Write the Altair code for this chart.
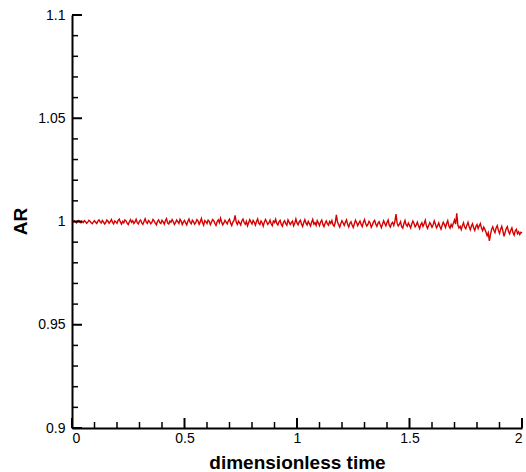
import altair as alt
import pandas as pd

ar_values = [
    1.0000, 0.9996, 1.0003, 0.9998, 0.9993, 1.0002, 1.0005, 0.9997, 0.9994, 1.0001,
    0.9995, 1.0004, 0.9999, 0.9991, 0.9997, 1.0006, 1.0001, 0.9994, 0.9989, 0.9998,
    1.0004, 0.9996, 0.9990, 1.0002, 1.0008, 0.9999, 0.9993, 1.0005, 0.9997, 0.9988,
    0.9995, 1.0007, 1.0001, 0.9992, 0.9999, 1.0010, 0.9996, 0.9989, 1.0003, 0.9998,
    0.9991, 1.0006, 1.0012, 0.9997, 0.9987, 1.0001, 0.9994, 1.0008, 1.0003, 0.9992,
    0.9985, 0.9999, 1.0009, 0.9996, 1.0004, 0.9990, 0.9998, 1.0011, 0.9994, 0.9988,
    1.0002, 1.0007, 0.9993, 0.9986, 1.0000, 1.0013, 0.9997, 0.9991, 1.0005, 0.9999,
    0.9989, 0.9996, 1.0010, 1.0003, 0.9992, 0.9984, 1.0001, 1.0008, 0.9995, 0.9990,
    1.0006, 0.9998, 0.9987, 1.0004, 1.0014, 0.9993, 0.9988, 1.0002, 0.9996, 1.0009,
    1.0000, 0.9986, 0.9994, 1.0007, 0.9999, 0.9990, 1.0011, 1.0002, 0.9985, 0.9997,
    1.0005, 0.9993, 0.9983, 1.0001, 1.0012, 0.9996, 0.9989, 1.0006, 0.9999, 0.9987,
    0.9994, 1.0009, 1.0003, 0.9986, 0.9998, 1.0015, 0.9995, 0.9982, 1.0004, 0.9999,
    0.9990, 1.0007, 1.0001, 0.9985, 0.9996, 1.0010, 1.0004, 0.9991, 0.9981, 0.9999,
    1.0008, 0.9994, 1.0016, 0.9998, 0.9984, 0.9993, 1.0006, 0.9997, 0.9988, 1.0003,
    1.0011, 0.9992, 0.9980, 0.9997, 1.0005, 1.0030, 0.9996, 0.9986, 1.0002, 0.9993,
    0.9983, 1.0004, 1.0012, 0.9995, 0.9987, 1.0001, 0.9979, 0.9994, 1.0009, 0.9998,
    0.9988, 1.0005, 0.9996, 0.9982, 1.0000, 1.0013, 0.9992, 0.9985, 1.0003, 0.9994,
    0.9978, 0.9997, 1.0010, 0.9999, 0.9986, 0.9993, 1.0007, 0.9989, 0.9980, 1.0002,
    0.9995, 1.0011, 0.9991, 0.9983, 0.9998, 1.0006, 0.9987, 0.9977, 0.9996, 1.0004,
    0.9990, 0.9982, 1.0008, 0.9997, 0.9985, 0.9994, 1.0002, 0.9979, 0.9991, 1.0012,
    0.9993, 0.9984, 0.9999, 1.0006, 0.9988, 0.9976, 0.9995, 1.0009, 0.9992, 0.9983,
    1.0001, 0.9990, 0.9978, 0.9996, 1.0010, 0.9987, 0.9994, 0.9981, 1.0004, 0.9993,
    0.9980, 0.9998, 1.0007, 0.9986, 0.9975, 0.9992, 1.0003, 0.9989, 0.9982, 1.0000,
    0.9991, 1.0005, 0.9984, 0.9977, 0.9995, 1.0032, 0.9997, 0.9985, 0.9973, 0.9990,
    1.0004, 0.9993, 0.9981, 0.9996, 1.0008, 0.9987, 0.9974, 0.9991, 0.9999, 0.9983,
    0.9971, 0.9989, 1.0006, 0.9994, 0.9980, 0.9992, 1.0002, 0.9985, 0.9975, 0.9997,
    1.0009, 0.9990, 0.9978, 0.9986, 1.0001, 0.9993, 0.9972, 0.9983, 0.9998, 1.0006,
    0.9988, 0.9976, 0.9992, 0.9999, 0.9984, 0.9970, 0.9987, 1.0004, 0.9991, 0.9979,
    0.9995, 1.0007, 0.9982, 0.9973, 0.9990, 0.9996, 0.9981, 1.0000, 1.0036, 0.9992,
    0.9978, 0.9987, 0.9999, 0.9975, 0.9968, 0.9989, 1.0005, 0.9984, 0.9977, 0.9993,
    0.9982, 0.9969, 0.9988, 1.0002, 0.9990, 0.9974, 0.9983, 0.9997, 0.9979, 0.9966,
    0.9985, 0.9994, 0.9976, 0.9989, 1.0006, 0.9981, 0.9967, 0.9980, 0.9995, 0.9986,
    0.9972, 0.9984, 1.0003, 0.9988, 0.9970, 0.9979, 0.9993, 0.9976, 0.9963, 0.9982,
    0.9996, 0.9985, 0.9971, 0.9990, 1.0004, 0.9978, 0.9968, 0.9986, 0.9974, 0.9992,
    1.0008, 0.9987, 1.0040, 0.9983, 0.9969, 0.9977, 0.9961, 0.9980, 0.9994, 0.9973,
    0.9965, 0.9982, 0.9996, 0.9975, 0.9960, 0.9978, 0.9989, 0.9970, 0.9957, 0.9976,
    0.9985, 0.9966, 0.9979, 0.9990, 0.9968, 0.9955, 0.9973, 0.9962, 0.9948, 0.9931,
    0.9945, 0.9906, 0.9938, 0.9962, 0.9975, 0.9958, 0.9946, 0.9969, 0.9980, 0.9957,
    0.9942, 0.9963, 0.9977, 0.9954, 0.9928, 0.9947, 0.9966, 0.9975, 0.9951, 0.9940,
    0.9958, 0.9969, 0.9946, 0.9934, 0.9955, 0.9962, 0.9941, 0.9950, 0.9937, 0.9948,
    0.9944,
]
time_values = [i / 200 for i in range(len(ar_values))]

x_major_ticks = [0, 0.5, 1, 1.5, 2]
x_minor_ticks = [0.1, 0.2, 0.3, 0.4, 0.6, 0.7, 0.8, 0.9,
                 1.1, 1.2, 1.3, 1.4, 1.6, 1.7, 1.8, 1.9]
y_major_ticks = [0.9, 0.95, 1.0, 1.05, 1.1]
y_minor_ticks = [0.91, 0.92, 0.93, 0.94, 0.96, 0.97, 0.98, 0.99,
                 1.01, 1.02, 1.03, 1.04, 1.06, 1.07, 1.08, 1.09]

W, H = 450, 413
FONT = "Liberation Sans"

x_scale = alt.Scale(domain=[0, 2], nice=False, zero=False)
y_scale = alt.Scale(domain=[0.9, 1.1], nice=False, zero=False)

df = pd.DataFrame({"t": time_values, "ar": ar_values})

line = alt.Chart(df).mark_line(color="#d60000", strokeWidth=1.4).encode(
    x=alt.X("t:Q", scale=x_scale, axis=alt.Axis(
        title="dimensionless time", values=x_major_ticks, labelExpr="datum.value + ''",
        ticks=False, grid=False, domainColor="black", domainWidth=2,
        labelFont=FONT, labelFontSize=14, labelColor="black", labelPadding=3,
        titleFont=FONT, titleFontSize=19, titleFontWeight="bold", titleColor="black",
        titleY=40, titleBaseline="alphabetic")),
    y=alt.Y("ar:Q", scale=y_scale, axis=alt.Axis(
        title="AR", values=y_major_ticks, labelExpr="datum.value + ''",
        ticks=False, grid=False, domainColor="black", domainWidth=2,
        labelFont=FONT, labelFontSize=14, labelColor="black", labelPadding=7,
        titleFont=FONT, titleFontSize=19, titleFontWeight="bold", titleColor="black",
        titleX=-42, titleY=206, titleAngle=-90)),
)

xmaj = alt.Chart(pd.DataFrame({"v": x_major_ticks})).mark_rule(color="black", strokeWidth=2).encode(
    x=alt.X("v:Q", scale=x_scale), y=alt.value(H), y2=alt.value(H - 10))
xmin = alt.Chart(pd.DataFrame({"v": x_minor_ticks})).mark_rule(color="black", strokeWidth=1.5).encode(
    x=alt.X("v:Q", scale=x_scale), y=alt.value(H), y2=alt.value(H - 6))
ymaj = alt.Chart(pd.DataFrame({"v": y_major_ticks})).mark_rule(color="black", strokeWidth=2).encode(
    y=alt.Y("v:Q", scale=y_scale), x=alt.value(0), x2=alt.value(10))
ymin = alt.Chart(pd.DataFrame({"v": y_minor_ticks})).mark_rule(color="black", strokeWidth=1.5).encode(
    y=alt.Y("v:Q", scale=y_scale), x=alt.value(0), x2=alt.value(6))

chart = alt.layer(line, xmaj, xmin, ymaj, ymin).properties(
    width=W, height=H,
    autosize=alt.AutoSizeParams(type="none"),
    padding={"left": 72, "top": 15, "right": 4, "bottom": 44},
    background="white",
).configure_view(strokeWidth=0)

chart.save("out.html", embed_options={"renderer": "svg", "actions": False})
